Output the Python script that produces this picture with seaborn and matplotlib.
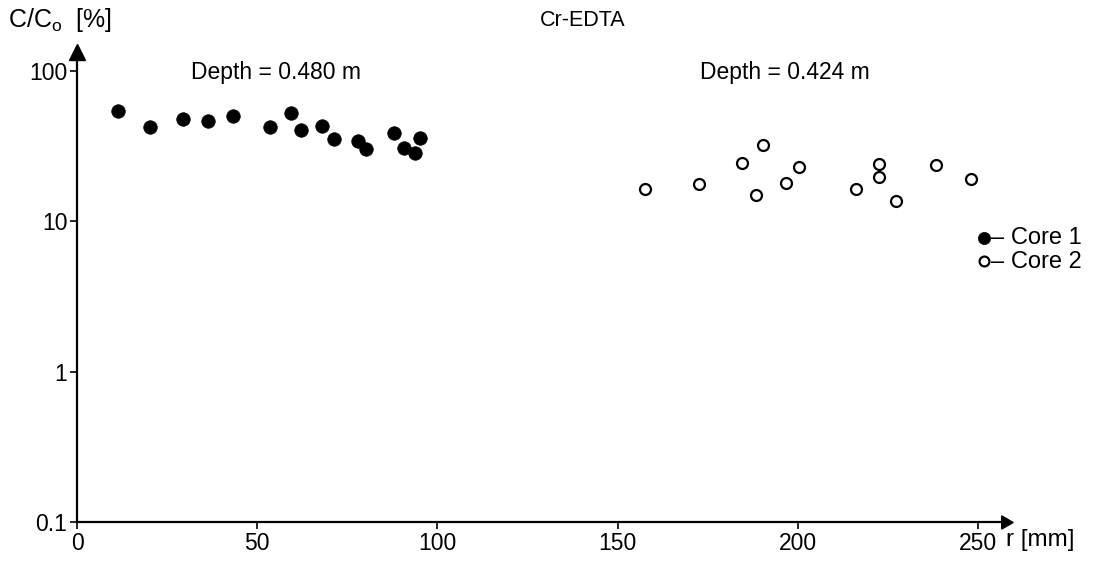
import matplotlib
matplotlib.use("Agg")
import matplotlib.pyplot as plt
import seaborn as sns
import pandas as pd

# Data
core1_r = [11.3, 20.3, 29.3, 36.3, 43.2, 53.6, 59.4, 62.2, 68.0, 71.2, 78.1, 80.2, 88.0, 90.7, 93.9, 95.1]
core1_c = [54.5, 42.3, 47.8, 46.4, 50.5, 42.1, 52.4, 40.2, 43.2, 35.2, 34.3, 30.3, 38.6, 30.7, 28.5, 36.0]
core2_r = [157.6, 172.5, 184.4, 190.4, 188.5, 196.6, 200.3, 216.2, 222.4, 222.6, 227.2, 238.3, 248.1]
core2_c = [16.5, 17.7, 24.5, 32.3, 14.9, 17.9, 22.8, 16.5, 23.9, 19.8, 13.7, 23.7, 19.0]
x_ticks = [0, 50, 100, 150, 200, 250]
y_ticks = [0.1, 1, 10, 100]
y_tick_labels = ["0.1", "1", "10", "100"]

sns.set_style("white")
plt.rcParams['font.family'] = ['Liberation Sans', 'DejaVu Sans']
plt.rcParams['mathtext.fontset'] = 'custom'
plt.rcParams['mathtext.rm'] = 'Liberation Sans'
plt.rcParams['mathtext.it'] = 'Liberation Sans:italic'
plt.rcParams['text.color'] = 'black'
plt.rcParams['xtick.color'] = 'black'
plt.rcParams['ytick.color'] = 'black'
plt.rcParams['axes.labelcolor'] = 'black'

W, H = 1099, 563
fig = plt.figure(figsize=(W / 100, H / 100), dpi=100)
left, right, bottom, top = 77, 1005, 522, 52
ax = fig.add_axes([left / W, (H - bottom) / H, (right - left) / W, (bottom - top) / H])

df1 = pd.DataFrame({"r": core1_r, "c": core1_c})
df2 = pd.DataFrame({"r": core2_r, "c": core2_c})

sns.scatterplot(data=df1, x="r", y="c", ax=ax, color="black", s=95,
                edgecolor="black", linewidth=0.5, label="\u2013 Core 1", zorder=3)
sns.scatterplot(data=df2, x="r", y="c", ax=ax, facecolor="white", s=62,
                edgecolor="black", linewidth=1.6, label="\u2013 Core 2", zorder=3)

ax.set_yscale("log")
ax.set_xlim(0, 257.5)
ax.set_ylim(0.1, 133.6)
ax.set_xticks(x_ticks)
ax.set_xticklabels([str(t) for t in x_ticks])
ax.set_yticks(y_ticks)
ax.set_yticklabels(y_tick_labels)
ax.minorticks_off()
ax.tick_params(axis="both", direction="out", length=5, width=1.2, pad=2,
               labelsize=16.5, colors="black", bottom=True, left=True)
ax.set_xlabel("")
ax.set_ylabel("")

for s in ["top", "right"]:
    ax.spines[s].set_visible(False)
for s in ["left", "bottom"]:
    ax.spines[s].set_color("black")
    ax.spines[s].set_linewidth(1.6)

# arrow heads on axes
ax.plot(1, 0, marker=(3, 0, -90), color="black", markersize=11,
        transform=ax.transAxes, clip_on=False)
ax.plot(0, 1, marker="^", color="black", markersize=11,
        transform=ax.transAxes, clip_on=False)

leg = ax.legend(loc="upper left", bbox_to_anchor=(960 / W, (H - 218) / H),
                bbox_transform=fig.transFigure, frameon=False, fontsize=17,
                handletextpad=-0.3, labelspacing=0.05, borderaxespad=0,
                handlelength=1.2, markerscale=0.9)
for t in leg.get_texts():
    t.set_color("black")

fig.text(8 / W, 1 - 20 / H, "C/C$_{\\rm o}$  [%]", fontsize=18, va="center", ha="left")
fig.text(583 / W, 1 - 20 / H, "Cr-EDTA", fontsize=15.5, va="center", ha="center")
fig.text(276 / W, 1 - 72 / H, "Depth = 0.480 m", fontsize=16.5, va="center", ha="center")
fig.text(785 / W, 1 - 72 / H, "Depth = 0.424 m", fontsize=16.5, va="center", ha="center")
fig.text(1006 / W, 1 - 540 / H, "r [mm]", fontsize=17.5, va="center", ha="left")

fig.savefig("out.png", dpi=100)
